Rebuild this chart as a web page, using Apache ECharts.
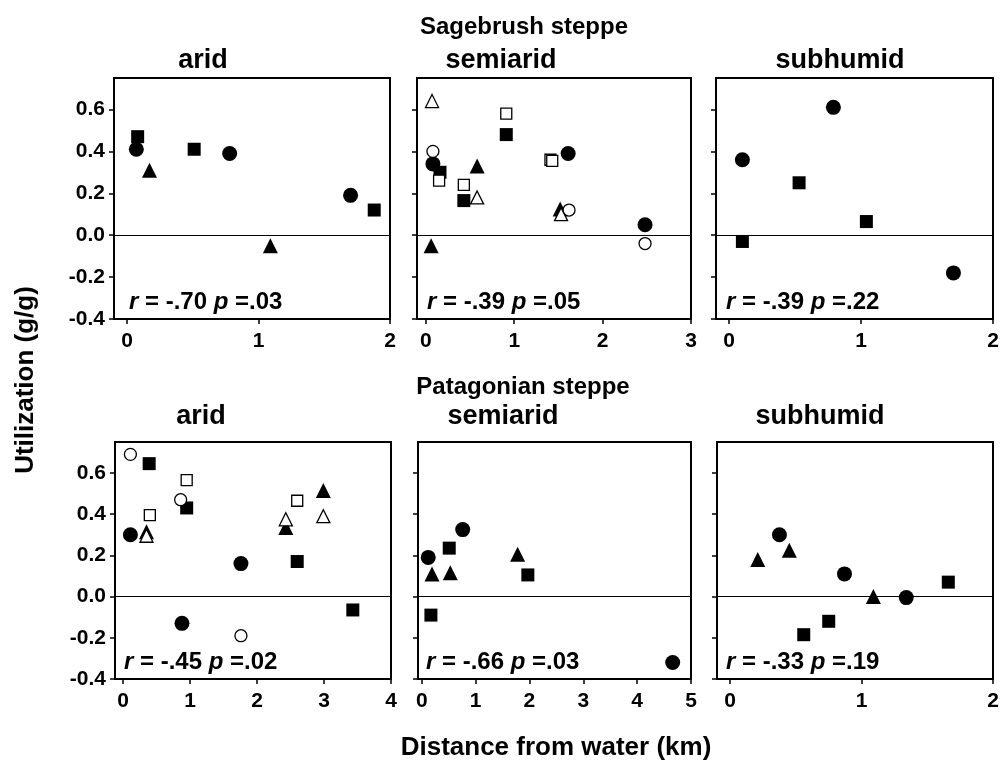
<!DOCTYPE html>
<html>
<head>
<meta charset="utf-8">
<script src="https://cdn.jsdelivr.net/npm/echarts@6/dist/echarts.min.js"></script>
<style>
  html, body { margin: 0; padding: 0; background: #fff; }
  #chart { width: 1003px; height: 775px; }
</style>
</head>
<body>
<div id="chart"></div>
<script>
// Marker codes: c / s / t = filled circle, square, triangle; oc / os / ot = open ones.
// Each point: [distance from water (km), utilization (g/g), marker]
const sageArid = [
  [0.08, 0.47, 's'], [0.07, 0.41, 'c'], [0.17, 0.31, 't'], [0.51, 0.41, 's'],
  [0.78, 0.39, 'c'], [1.09, -0.05, 't'], [1.70, 0.19, 'c'], [1.88, 0.12, 's']
];
const sageSemiarid = [
  [0.07, 0.64, 'ot'], [0.91, 0.58, 'os'], [0.91, 0.48, 's'], [0.08, 0.40, 'oc'],
  [0.08, 0.34, 'c'], [0.16, 0.30, 's'], [0.15, 0.26, 'os'], [0.58, 0.33, 't'],
  [0.43, 0.24, 'os'], [0.43, 0.165, 's'], [0.58, 0.18, 'ot'], [1.41, 0.36, 'os'],
  [1.43, 0.355, 'os'], [1.61, 0.39, 'c'], [1.52, 0.125, 't'], [1.53, 0.10, 'ot'],
  [1.62, 0.12, 'oc'], [2.48, 0.05, 'c'], [2.48, -0.04, 'oc'], [0.06, -0.05, 't']
];
const sageSubhumid = [
  [0.10, 0.36, 'c'], [0.79, 0.61, 'c'], [0.53, 0.25, 's'],
  [1.04, 0.065, 's'], [0.10, -0.03, 's'], [1.70, -0.18, 'c']
];
const patArid = [
  [0.11, 0.69, 'oc'], [0.39, 0.645, 's'], [0.95, 0.565, 'os'], [0.86, 0.47, 'oc'],
  [0.95, 0.43, 's'], [0.40, 0.395, 'os'], [0.11, 0.30, 'c'], [0.35, 0.315, 't'],
  [0.35, 0.295, 'ot'], [1.76, 0.16, 'c'], [0.88, -0.13, 'c'], [1.76, -0.19, 'oc'],
  [2.43, 0.335, 't'], [2.43, 0.375, 'ot'], [2.60, 0.465, 'os'], [2.99, 0.515, 't'],
  [2.99, 0.39, 'ot'], [2.60, 0.17, 's'], [3.43, -0.065, 's']
];
const patSemiarid = [
  [0.12, 0.19, 'c'], [0.19, 0.11, 't'], [0.53, 0.115, 't'], [0.51, 0.235, 's'],
  [0.76, 0.325, 'c'], [1.78, 0.205, 't'], [1.97, 0.105, 's'], [0.17, -0.09, 's'],
  [4.66, -0.32, 'c']
];
const patSubhumid = [
  [0.21, 0.18, 't'], [0.375, 0.30, 'c'], [0.45, 0.225, 't'], [0.87, 0.11, 'c'],
  [1.09, 0.0, 't'], [1.34, -0.005, 'c'], [1.66, 0.07, 's'], [0.75, -0.12, 's'],
  [0.56, -0.185, 's']
];

const yTicks = [-0.4, -0.2, 0.0, 0.2, 0.4, 0.6];
const xTicks2 = [0, 1, 2];
const xTicks3 = [0, 1, 2, 3];
const xTicks4 = [0, 1, 2, 3, 4];
const xTicks5 = [0, 1, 2, 3, 4, 5];

const panelTitles = ['arid', 'semiarid', 'subhumid', 'arid', 'semiarid', 'subhumid'];
const rValues = ['-.70', '-.39', '-.39', '-.45', '-.66', '-.33'];
const pValues = ['.03', '.05', '.22', '.02', '.03', '.19'];

const FONT = '"Liberation Sans", Arial, Helvetica, sans-serif';

// layout of the six frames
const panels = [
  { data: sageArid,     ticks: xTicks2, xmin: -0.1,  xmax: 2, box: [114, 78, 276, 241], title: [203, 61], stat: [129, 302], yLabels: true },
  { data: sageSemiarid, ticks: xTicks3, xmin: -0.1,  xmax: 3, box: [417, 78, 274, 241], title: [501, 61], stat: [427, 302], yLabels: false },
  { data: sageSubhumid, ticks: xTicks2, xmin: -0.1,  xmax: 2, box: [716, 78, 277, 241], title: [840, 61], stat: [726, 302], yLabels: false },
  { data: patArid,      ticks: xTicks4, xmin: -0.12, xmax: 4, box: [115, 442, 276, 237], title: [201, 417], stat: [124, 662], yLabels: true },
  { data: patSemiarid,  ticks: xTicks5, xmin: -0.07, xmax: 5, box: [418, 442, 273, 237], title: [503, 417], stat: [426, 662], yLabels: false },
  { data: patSubhumid,  ticks: xTicks2, xmin: -0.1,  xmax: 2, box: [717, 442, 276, 237], title: [820, 417], stat: [726, 662], yLabels: false }
];

const markerStyles = {
  c:  { symbol: 'circle',   size: 15, fill: '#000', z: 2 },
  s:  { symbol: 'rect',     size: 13, fill: '#000', z: 2 },
  t:  { symbol: 'triangle', size: 15, fill: '#000', z: 2 },
  oc: { symbol: 'circle',   size: 12, fill: '#fff', z: 3 },
  os: { symbol: 'rect',     size: 11, fill: '#fff', z: 3 },
  ot: { symbol: 'triangle', size: 13, fill: '#fff', z: 3 }
};

const grids = [], xAxes = [], yAxes = [], series = [], graphics = [];

panels.forEach((p, i) => {
  const [left, top, width, height] = p.box;
  grids.push({ left, top, width, height, show: true, borderColor: '#000', borderWidth: 2, backgroundColor: '#fff' });

  xAxes.push({
    type: 'value', gridIndex: i, min: p.xmin, max: p.xmax,
    axisLine: { show: true, onZero: false, lineStyle: { color: '#000', width: 2 } },
    axisTick: { show: true, length: 5, inside: false, customValues: p.ticks, lineStyle: { color: '#000', width: 1.5 } },
    axisLabel: { show: true, customValues: p.ticks, margin: 12, color: '#000', fontFamily: FONT, fontWeight: 'bold', fontSize: 21 },
    splitLine: { show: false }
  });

  yAxes.push({
    type: 'value', gridIndex: i, min: -0.4, max: 0.75,
    axisLine: { show: true, onZero: false, lineStyle: { color: '#000', width: 2 } },
    axisTick: { show: true, length: 5, inside: false, customValues: yTicks, lineStyle: { color: '#000', width: 1.5 } },
    axisLabel: {
      show: p.yLabels, customValues: yTicks, margin: 9, color: '#000',
      fontFamily: FONT, fontWeight: 'bold', fontSize: 21,
      formatter: v => v.toFixed(1)
    },
    splitLine: { show: false }
  });

  // zero reference line
  series.push({
    type: 'scatter', xAxisIndex: i, yAxisIndex: i, data: [], silent: true,
    markLine: {
      silent: true, symbol: ['none', 'none'], label: { show: false },
      lineStyle: { color: '#000', width: 1, type: 'solid' },
      data: [{ yAxis: 0 }]
    }
  });

  ['c', 's', 't', 'oc', 'os', 'ot'].forEach(code => {
    const pts = p.data.filter(d => d[2] === code).map(d => [d[0], d[1]]);
    if (!pts.length) return;
    const m = markerStyles[code];
    series.push({
      type: 'scatter', xAxisIndex: i, yAxisIndex: i, data: pts,
      symbol: m.symbol, symbolSize: m.size, z: m.z, silent: true,
      itemStyle: { color: m.fill, borderColor: '#000', borderWidth: code.length > 1 ? 1.3 : 0, opacity: 1 }
    });
  });

  graphics.push({
    type: 'text', x: p.title[0], y: p.title[1],
    style: { text: panelTitles[i], fill: '#000', font: 'bold 27px ' + FONT, align: 'center', verticalAlign: 'middle' }
  });

  graphics.push({
    type: 'text', x: p.stat[0], y: p.stat[1], z: 10,
    style: {
      text: '{i|r} = ' + rValues[i] + ' {i|p} =' + pValues[i],
      fill: '#000', font: 'bold 24px ' + FONT, align: 'left', verticalAlign: 'middle',
      rich: { i: { fontStyle: 'italic', fontWeight: 'bold', fontSize: 24, fontFamily: FONT, fill: '#000' } }
    }
  });
});

graphics.push(
  { type: 'text', x: 524, y: 27,
    style: { text: 'Sagebrush steppe', fill: '#000', font: 'bold 24px ' + FONT, align: 'center', verticalAlign: 'middle' } },
  { type: 'text', x: 523, y: 387,
    style: { text: 'Patagonian steppe', fill: '#000', font: 'bold 24px ' + FONT, align: 'center', verticalAlign: 'middle' } },
  { type: 'text', x: 556, y: 748,
    style: { text: 'Distance from water (km)', fill: '#000', font: 'bold 26px ' + FONT, align: 'center', verticalAlign: 'middle' } },
  { type: 'text', x: 26, y: 380, rotation: Math.PI / 2,
    style: { text: 'Utilization (g/g)', fill: '#000', font: 'bold 26px ' + FONT, align: 'center', verticalAlign: 'middle' } }
);

const chart = echarts.init(document.getElementById('chart'), null, { renderer: 'canvas' });
chart.setOption({
  backgroundColor: '#fff',
  animation: false,
  grid: grids,
  xAxis: xAxes,
  yAxis: yAxes,
  series: series,
  graphic: graphics
});
</script>
</body>
</html>
